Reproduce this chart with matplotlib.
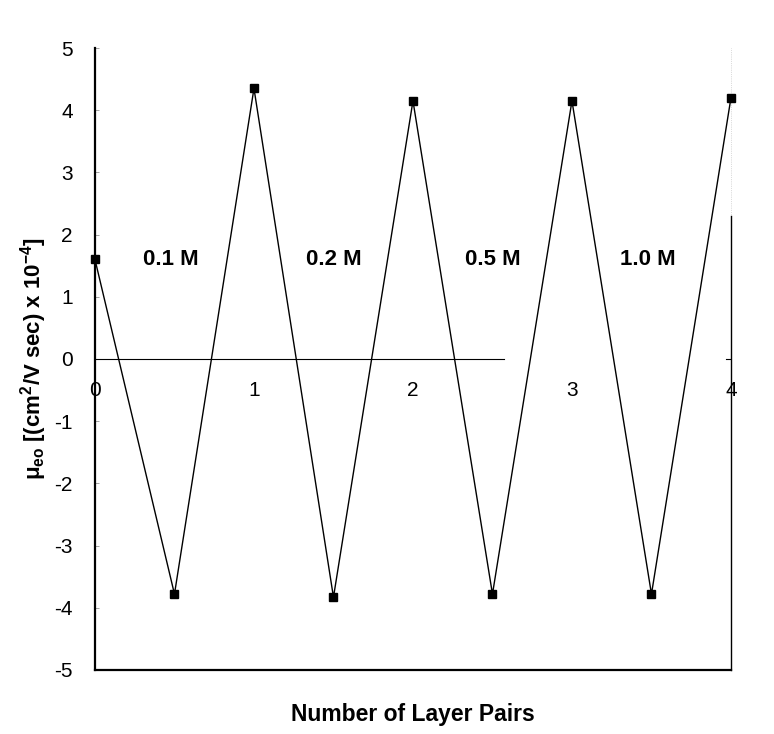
import matplotlib
matplotlib.use('Agg')
import matplotlib.pyplot as plt

# layer pairs (half steps = polycation / polyanion layers)
layer_pairs = [0, 0.5, 1, 1.5, 2, 2.5, 3, 3.5, 4]
mobility = [1.6, -3.78, 4.35, -3.83, 4.15, -3.78, 4.15, -3.78, 4.2]

conc_labels = ['0.1 M', '0.2 M', '0.5 M', '1.0 M']
conc_x = [0.48, 1.5, 2.5, 3.48]
conc_y = 1.6

x_ticks = [0, 1, 2, 3, 4]
y_ticks = [-5, -4, -3, -2, -1, 0, 1, 2, 3, 4, 5]

plt.rcParams['font.family'] = 'Liberation Sans'
plt.rcParams['axes.unicode_minus'] = False
plt.rcParams['mathtext.fontset'] = 'custom'
plt.rcParams['mathtext.rm'] = 'Liberation Sans:bold'
plt.rcParams['mathtext.it'] = 'Liberation Sans:bold'
plt.rcParams['mathtext.bf'] = 'Liberation Sans:bold'

fig = plt.figure(figsize=(7.74, 7.34), dpi=100)
ax = fig.add_axes([0.1227, 0.0872, 0.8217, 0.8474])

ax.plot(layer_pairs, mobility, color='black', lw=1.0, marker='s',
        markersize=6, markerfacecolor='black', markeredgecolor='black',
        zorder=3, clip_on=False)

# thin zero line (partly broken like in the original scan)
ax.plot([0, 2.57], [0, 0], color='black', lw=0.8, zorder=2)
ax.plot([3.97, 4], [0, 0], color='black', lw=0.8, zorder=2)

# right-hand frame line at x = 4
ax.plot([4, 4], [-5, 2.3], color='black', lw=1.0, zorder=2, clip_on=False)
ax.plot([4, 4], [2.3, 5], color='#bbbbbb', lw=0.5, ls=':', zorder=1, clip_on=False)

for x in x_ticks:
    ax.text(x, -0.36, str(x), ha='center', va='top', fontsize=15)

for lab, x in zip(conc_labels, conc_x):
    ax.text(x, conc_y, lab, ha='center', va='center', fontsize=16, fontweight='bold')

ax.set_xlim(0, 4)
ax.set_ylim(-5, 5)
ax.set_xticks([])
ax.set_yticks(y_ticks)
ax.tick_params(axis='y', direction='in', length=3, width=0.5, color='gray',
               labelsize=15, pad=16)

ax.spines['top'].set_visible(False)
ax.spines['right'].set_visible(False)
ax.spines['left'].set_linewidth(1.6)
ax.spines['bottom'].set_linewidth(1.6)

ax.set_xlabel('Number of Layer Pairs', fontsize=16.5, fontweight='bold', labelpad=24)
ax.set_ylabel(r'$\mu_{eo}$ [(cm$^2$/V sec) x 10$^{-4}$]', fontsize=16,
              fontweight='bold', labelpad=4)

fig.savefig('out.png', dpi=100)
